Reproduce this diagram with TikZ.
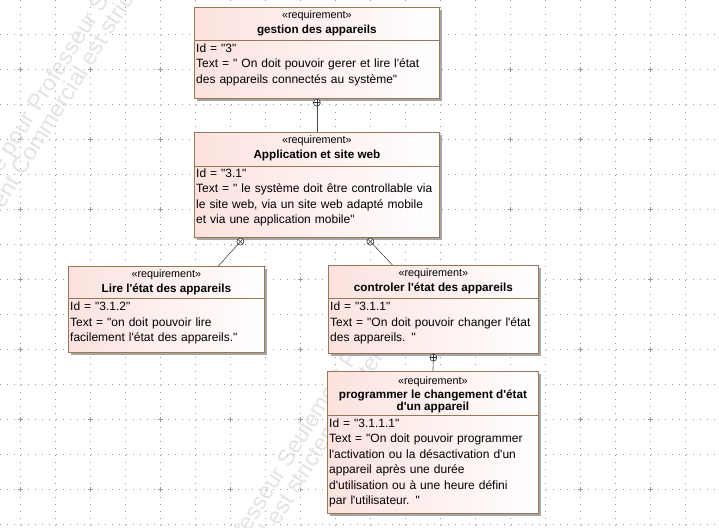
\documentclass[tikz,border=0pt]{standalone}
\usepackage{fontspec}
\setmainfont{Liberation Sans}[Ligatures=TeXOff]
\usepackage{tikz}
\usetikzlibrary{positioning, shadows}
\definecolor{reqborder}{RGB}{152,118,88}
\definecolor{reqpink}{RGB}{252,226,222}
\definecolor{gridgray}{RGB}{155,155,155}
\tikzset{%
	reqbox/.style={
		draw=reqborder,
		line width=0.8pt,
		left color=reqpink,
		right color=white,
		anchor=north west,
		inner sep=0pt,
		drop shadow={shadow xshift=2.5pt, shadow yshift=-2.5pt, fill=black!35, opacity=1}
	},
	reqsep/.style={draw=reqborder, line width=0.8pt},
	reqstereo/.style={font=\fontsize{10.8}{12}\selectfont, inner sep=0pt},
	reqtitle/.style={font=\bfseries\fontsize{11.7}{12.5}\selectfont, inner sep=0pt, align=center},
	reqbody/.style={
		font=\fontsize{12}{15.5}\selectfont,
		inner sep=0pt,
		anchor=north west,
		text width=260pt,
		align=left
	},
	reqlink/.style={draw=black!70, line width=0.6pt},
	containplus/.style={
		circle, draw=black!80, fill=white, line width=0.6pt,
		minimum size=7pt, inner sep=0pt, anchor=north,
		path picture={\draw[black!80, line width=0.6pt]
			(path picture bounding box.north) -- (path picture bounding box.south)
			(path picture bounding box.west) -- (path picture bounding box.east);}
	},
	containx/.style={
		circle, draw=black!80, fill=white, line width=0.6pt,
		minimum size=7pt, inner sep=0pt, anchor=north,
		path picture={\draw[black!80, line width=0.6pt]
			(path picture bounding box.north west) -- (path picture bounding box.south east)
			(path picture bounding box.south west) -- (path picture bounding box.north east);}
	},
	gridline/.style={gridgray, line width=0.6pt, dash pattern=on 0.8pt off 6.2pt},
	gridmark/.style={gridgray, line width=0.6pt},
	watermark/.style={
		text=black!11,
		font=\fontsize{23}{26}\selectfont,
		rotate=58,
		anchor=base west,
		inner sep=0pt
	},
}
\begin{document}
\begin{tikzpicture}[x=1pt, y=-1pt]
	\useasboundingbox[fill=white] (0,0) rectangle (719,527);
	
	% background grid
	\foreach \x in {20,55,...,719}
		\draw[gridline] (\x,0) -- (\x,527);
	\foreach \y in {34,69,...,527}
		\draw[gridline] (0,\y) -- (719,\y);
	\foreach \x in {20,90,...,719}
		\foreach \y in {69,139,...,527}
			\draw[gridmark] (\x-2.5,\y) -- (\x+2.5,\y) (\x,\y-2.5) -- (\x,\y+2.5);
	
	% licence watermark, behind the boxes
	\node[watermark] (wm-a1) at (-105,344) {Licence Académique pour Professeur Seulement Personnel};
	\node[watermark] (wm-a2) at (-65,319) {Le Déploiement Commercial est strictement interdit};
	\node[watermark] (wm-b1) at (83,799) {Licence Académique pour Professeur Seulement Personnel};
	\node[watermark] (wm-b2) at (121,778) {Le Déploiement Commercial est strictement interdit};
	
	% requirement 3
	\node[reqbox, minimum width=245pt, minimum height=91pt] (gestion) at (194,7) {};
	\draw[reqsep] ([yshift=-33pt]gestion.north west) -- ([yshift=-33pt]gestion.north east);
	\node[reqstereo, below=3pt of gestion.north] (gestion-st) {«requirement»};
	\node[reqtitle, below=4pt of gestion-st] (gestion-ti) {gestion des appareils};
	\node[reqbody] (gestion-tx) at ([xshift=2pt, yshift=-36.5pt]gestion.north west)
		{Id = "3"\\Text = " On doit pouvoir gerer et lire l'état\\des appareils connectés au système"};
	
	% requirement 3.1
	\node[reqbox, minimum width=245pt, minimum height=105pt] (appli) at (194,132) {};
	\draw[reqsep] ([yshift=-34pt]appli.north west) -- ([yshift=-34pt]appli.north east);
	\node[reqstereo, below=3pt of appli.north] (appli-st) {«requirement»};
	\node[reqtitle, below=4pt of appli-st] (appli-ti) {Application et site web};
	\node[reqbody] (appli-tx) at ([xshift=2pt, yshift=-36.5pt]appli.north west)
		{Id = "3.1"\\Text = " le système doit être controllable via\\le site web, via un site web adapté mobile\\et via une application mobile"};
	
	% requirement 3.1.2
	\node[reqbox, minimum width=196pt, minimum height=86pt] (lire) at (68,266) {};
	\draw[reqsep] ([yshift=-32.5pt]lire.north west) -- ([yshift=-32.5pt]lire.north east);
	\node[reqstereo, below=3.5pt of lire.north] (lire-st) {«requirement»};
	\node[reqtitle, below=4pt of lire-st] (lire-ti) {Lire l'état des appareils};
	\node[reqbody] (lire-tx) at ([xshift=2pt, yshift=-36pt]lire.north west)
		{Id = "3.1.2"\\Text = "on doit pouvoir lire\\facilement l'état des appareils."};
	
	% requirement 3.1.1
	\node[reqbox, minimum width=210pt, minimum height=88pt] (ctrl) at (328,265) {};
	\draw[reqsep] ([yshift=-33pt]ctrl.north west) -- ([yshift=-33pt]ctrl.north east);
	\node[reqstereo, below=3.5pt of ctrl.north] (ctrl-st) {«requirement»};
	\node[reqtitle, below=4pt of ctrl-st] (ctrl-ti) {controler l'état des appareils};
	\node[reqbody] (ctrl-tx) at ([xshift=2pt, yshift=-37pt]ctrl.north west)
		{Id = "3.1.1"\\Text = "On doit pouvoir changer l'état\\des appareils. "};
	
	% requirement 3.1.1.1
	\node[reqbox, minimum width=211pt, minimum height=142pt] (prog) at (327,371) {};
	\draw[reqsep] ([yshift=-44pt]prog.north west) -- ([yshift=-44pt]prog.north east);
	\node[reqstereo, below=5.5pt of prog.north] (prog-st) {«requirement»};
	\node[reqtitle, below=2.5pt of prog-st] (prog-ti) {programmer le changement d'état\\d'un appareil};
	\node[reqbody] (prog-tx) at ([xshift=2pt, yshift=-47.5pt]prog.north west)
		{Id = "3.1.1.1"\\Text = "On doit pouvoir programmer\\l'activation ou la désactivation d'un\\appareil après une durée\\d'utilisation ou à une heure défini\\par l'utilisateur. "};
	
	% containment ends
	\node[containplus] (gestion-c) at (gestion.south) {};
	\node[containx] (appli-c1) at ([xshift=-76.5pt]appli.south) {};
	\node[containx] (appli-c2) at ([xshift=53.5pt]appli.south) {};
	\node[containplus] (ctrl-c) at (ctrl.south) {};
	
	\draw[reqlink] (gestion-c) -- (appli.north);
	\draw[reqlink] (appli-c1) -- ([xshift=52pt]lire.north);
	\draw[reqlink] (appli-c2) -- ([xshift=-41pt]ctrl.north);
	\draw[reqlink] (ctrl-c) -- (prog.north);
\end{tikzpicture}
\end{document}
